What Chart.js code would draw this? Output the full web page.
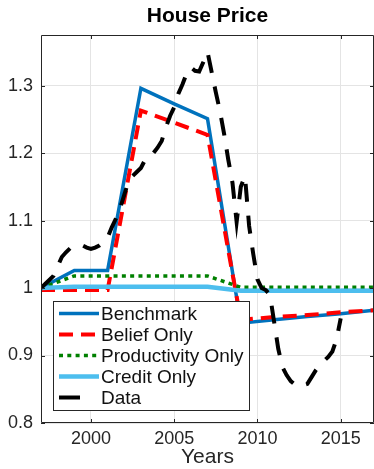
<!DOCTYPE html>
<html><head><meta charset="utf-8">
<script src="https://cdn.jsdelivr.net/npm/chart.js@4.4.0/dist/chart.umd.min.js"></script>
<style>html,body{margin:0;padding:0;background:#fff;}canvas{display:block;}</style>
</head><body>
<canvas id="c" width="374" height="469"></canvas>
<script>
const chartTitle = 'House Price';
const xAxisTitle = 'Years';
const xTickValues = [2000, 2005, 2010, 2015];
const yTickValues = [0.8, 0.9, 1.0, 1.1, 1.2, 1.3];
const yTickLabels = ['0.8', '0.9', '1', '1.1', '1.2', '1.3'];
const seriesNames = ['Benchmark', 'Belief Only', 'Productivity Only', 'Credit Only', 'Data'];

const modelYears       = [1997, 1999, 2001, 2003, 2005, 2007, 2009, 2011, 2013, 2015, 2017];
const benchmark        = [1.000, 1.026, 1.026, 1.296, 1.273, 1.251, 0.948, 0.953, 0.958, 0.962, 0.967];
const beliefOnly       = [0.997, 0.997, 0.997, 1.263, 1.245, 1.227, 0.953, 0.957, 0.960, 0.964, 0.967];
const productivityOnly = [1.000, 1.018, 1.018, 1.018, 1.018, 1.018, 1.001, 1.001, 1.001, 1.001, 1.001];
const creditOnly       = [1.000, 1.002, 1.002, 1.002, 1.002, 1.002, 0.996, 0.996, 0.996, 0.996, 0.996];

const dataYears = [
  1997.00, 1997.25, 1997.50, 1997.75, 1998.00, 1998.25, 1998.50, 1998.75,
  1999.00, 1999.25, 1999.50, 1999.75, 2000.00, 2000.25, 2000.50, 2000.75,
  2001.00, 2001.25, 2001.50, 2001.75, 2002.00, 2002.25, 2002.50, 2002.75,
  2003.00, 2003.25, 2003.50, 2003.75, 2004.00, 2004.25, 2004.50, 2004.75,
  2005.00, 2005.25, 2005.50, 2005.75, 2006.00, 2006.25, 2006.50, 2006.75,
  2007.00, 2007.25, 2007.50, 2007.75, 2008.00, 2008.25, 2008.50, 2008.75,
  2009.00, 2009.25, 2009.50, 2009.75, 2010.00, 2010.25, 2010.50, 2010.75,
  2011.00, 2011.25, 2011.50, 2011.75, 2012.00, 2012.25, 2012.50, 2012.75,
  2013.00, 2013.25, 2013.50, 2013.75, 2014.00, 2014.25, 2014.50, 2014.75,
  2015.00
];
const dataValues = [
  1.000, 1.006, 1.012, 1.018, 1.032, 1.046, 1.053, 1.059,
  1.062, 1.064, 1.063, 1.060, 1.058, 1.060, 1.063, 1.068,
  1.075, 1.090, 1.103, 1.118, 1.138, 1.158, 1.166, 1.172,
  1.178, 1.190, 1.198, 1.200, 1.208, 1.218, 1.238, 1.255,
  1.268, 1.288, 1.302, 1.318, 1.327, 1.322, 1.321, 1.335,
  1.350, 1.320, 1.290, 1.262, 1.228, 1.190, 1.156, 1.098,
  1.150, 1.166, 1.092, 1.050, 1.013, 1.000, 0.997, 0.990,
  0.950, 0.910, 0.883, 0.871, 0.862, 0.857, 0.859, 0.856,
  0.858, 0.868, 0.878, 0.886, 0.892, 0.898, 0.906, 0.924,
  0.955
];

const FONT = '"Liberation Sans", Arial, Helvetica, sans-serif';
const pts = (xs, ys) => xs.map((x, i) => ({x: x, y: ys[i]}));

const frameLegendPlugin = {
  id: 'frameLegend',
  afterDraw(chart) {
    const ctx = chart.ctx, a = chart.chartArea;
    const xs = chart.scales.x, ys = chart.scales.y;
    ctx.save();
    ctx.strokeStyle = '#262626';
    ctx.lineWidth = 1;
    ctx.beginPath();
    ctx.rect(Math.round(a.left) + 0.5, Math.round(a.top) + 0.5, Math.round(a.right - a.left) - 1, Math.round(a.bottom - a.top) - 1);
    ctx.stroke();
    ctx.beginPath();
    xTickValues.forEach(v => {
      const px = Math.round(xs.getPixelForValue(v)) + 0.5;
      ctx.moveTo(px, a.bottom); ctx.lineTo(px, a.bottom - 4);
      ctx.moveTo(px, a.top); ctx.lineTo(px, a.top + 4);
    });
    yTickValues.forEach(v => {
      const py = Math.round(ys.getPixelForValue(v)) + 0.5;
      ctx.moveTo(a.left, py); ctx.lineTo(a.left + 4, py);
      ctx.moveTo(a.right, py); ctx.lineTo(a.right - 4, py);
    });
    ctx.stroke();
    const bx = Math.round(a.left) + 12, by = Math.round(a.top) + 266, bw = 196, bh = 109;
    ctx.fillStyle = '#fff';
    ctx.fillRect(bx, by, bw, bh);
    ctx.strokeStyle = '#262626';
    ctx.lineWidth = 1;
    ctx.strokeRect(bx + 0.5, by + 0.5, bw, bh);
    chart.data.datasets.forEach((ds, i) => {
      const yy = by + 12.5 + i * 21;
      ctx.beginPath();
      ctx.strokeStyle = ds.borderColor;
      ctx.lineWidth = ds.borderWidth;
      ctx.lineCap = 'butt';
      ctx.setLineDash(ds.legendDash || []);
      ctx.moveTo(bx + 6, yy);
      ctx.lineTo(bx + 46, yy);
      ctx.stroke();
      ctx.setLineDash([]);
      ctx.fillStyle = '#111';
      ctx.font = '19px ' + FONT;
      ctx.textBaseline = 'middle';
      ctx.textAlign = 'left';
      ctx.fillText(ds.label, bx + 48, yy + 1);
    });
    ctx.restore();
  }
};

new Chart(document.getElementById('c'), {
  type: 'line',
  data: {
    datasets: [
      {label: seriesNames[0], data: pts(modelYears, benchmark), borderColor: '#0072BD', borderWidth: 3.5, order: 5, legendDash: []},
      {label: seriesNames[1], data: pts(modelYears, beliefOnly), borderColor: '#FF0000', borderWidth: 4, borderDash: [14, 8], order: 4, legendDash: [14, 8]},
      {label: seriesNames[2], data: pts(modelYears, productivityOnly), borderColor: '#008000', borderWidth: 3.5, borderDash: [4, 4.3], order: 3, legendDash: [4, 4.3]},
      {label: seriesNames[3], data: pts(modelYears, creditOnly), borderColor: '#4DBEEE', borderWidth: 4.5, order: 2, legendDash: []},
      {label: seriesNames[4], data: pts(dataYears, dataValues), borderColor: '#000000', borderWidth: 4, borderDash: [18, 14], order: 1, legendDash: [21, 30]}
    ]
  },
  options: {
    responsive: false,
    animation: false,
    devicePixelRatio: 1,
    layout: {padding: {left: 0, right: 0, top: 0, bottom: 0}},
    elements: {
      point: {radius: 0, hoverRadius: 0},
      line: {tension: 0, fill: false, borderCapStyle: 'butt', borderJoinStyle: 'miter'}
    },
    plugins: {
      legend: {display: false},
      tooltip: {enabled: false},
      title: {
        display: true, text: chartTitle, fullSize: false, color: '#000',
        font: {family: FONT, size: 21, weight: 'bold', lineHeight: 1.2},
        padding: {top: 4, bottom: 5.8}
      }
    },
    scales: {
      x: {
        type: 'linear', min: 1997, max: 2017,
        afterBuildTicks: s => { s.ticks = xTickValues.map(v => ({value: v})); },
        afterFit: s => { s.height = 46; },
        grid: {color: '#e4e4e4', lineWidth: 1, drawTicks: false},
        border: {display: false},
        ticks: {color: '#262626', font: {family: FONT, size: 18}, padding: 5, maxRotation: 0, autoSkip: false, callback: v => String(v)},
        title: {display: true, text: xAxisTitle, color: '#262626', font: {family: FONT, size: 21, lineHeight: 1.0}, padding: {top: 0, bottom: 1}}
      },
      y: {
        type: 'linear', min: 0.8, max: 1.375,
        afterBuildTicks: s => { s.ticks = yTickValues.map(v => ({value: v})); },
        afterFit: s => { s.width = 41; },
        grid: {color: '#e4e4e4', lineWidth: 1, drawTicks: false},
        border: {display: false},
        ticks: {color: '#262626', font: {family: FONT, size: 18}, padding: 8, autoSkip: false,
          callback: (v, i) => yTickLabels[i]}
      }
    }
  },
  plugins: [frameLegendPlugin]
});
</script>
</body></html>
